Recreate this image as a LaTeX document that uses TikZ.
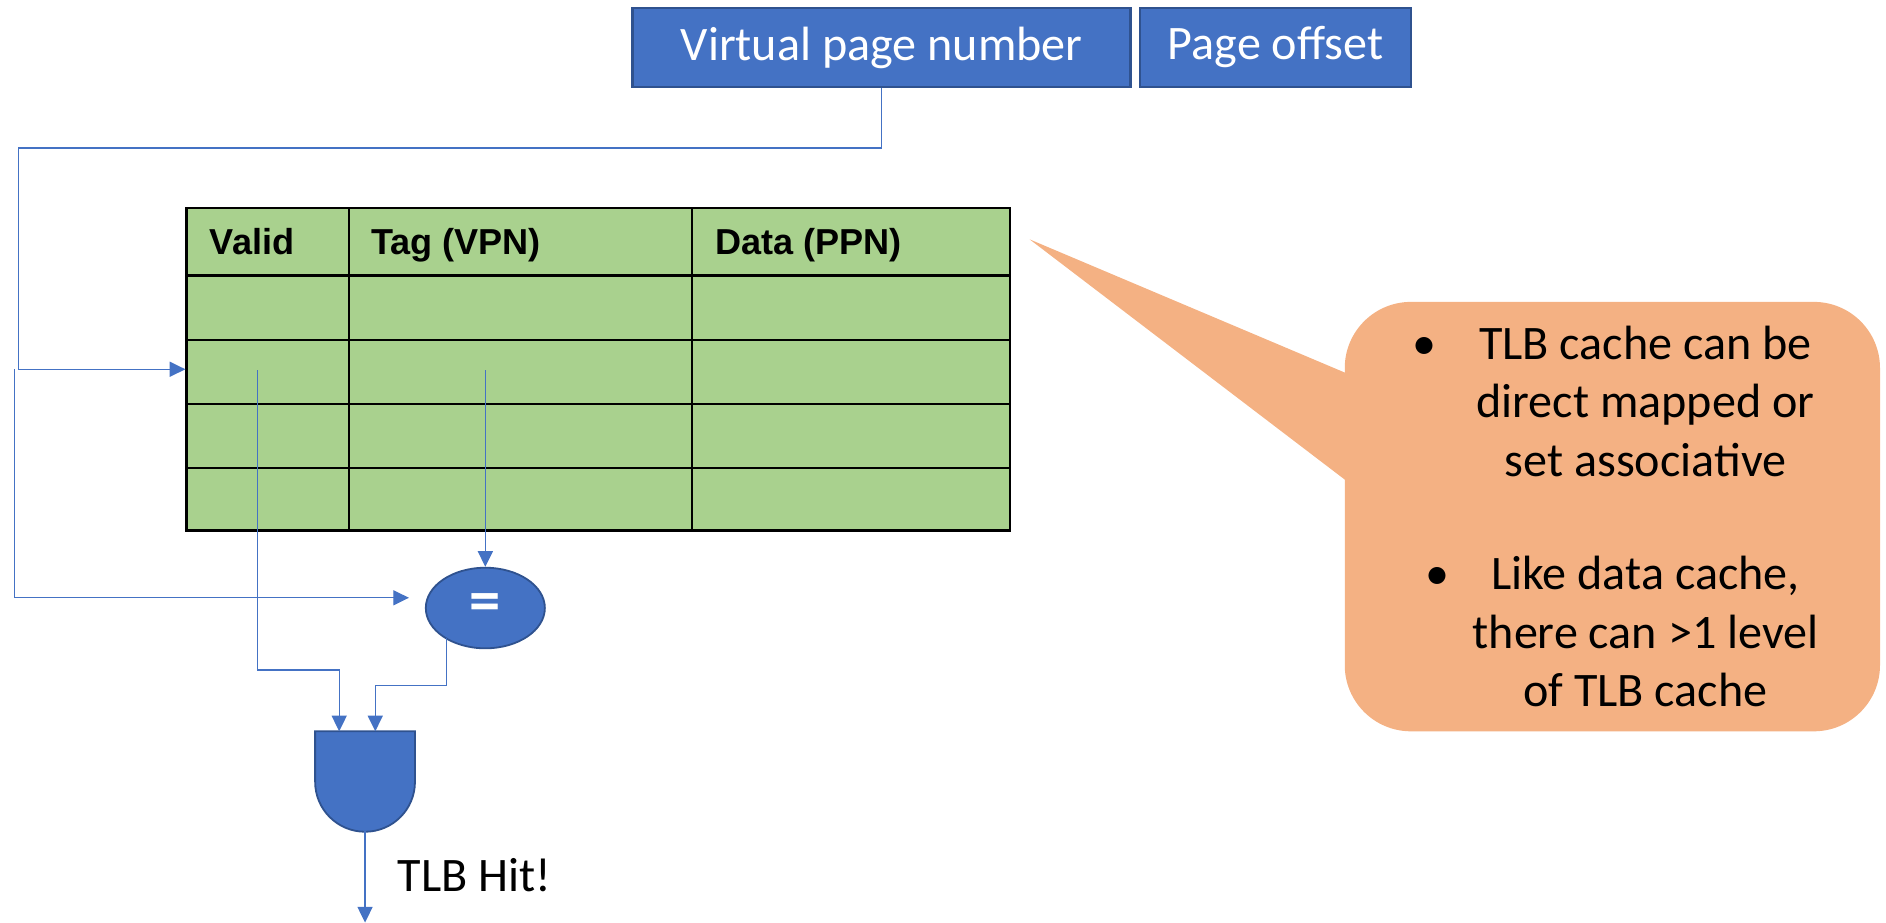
\documentclass[tikz,border=0pt]{standalone}
\usepackage{fontspec}
\setmainfont{Carlito}
\newfontfamily\hdrfont{Liberation Sans}
\usetikzlibrary{arrows.meta,calc,shapes.geometric}
\definecolor{accentblue}{HTML}{4472C4}
\definecolor{edgeblue}{HTML}{2F528F}
\definecolor{wireblue}{HTML}{4472C4}
\definecolor{cellgreen}{HTML}{A9D18E}
\definecolor{calloutorange}{HTML}{F4B183}
\tikzset{
  fieldbox/.style={draw=edgeblue, line width=2pt, fill=accentblue, text=white,
    font=\fontsize{40}{48}\selectfont, minimum height=66pt, inner sep=0pt},
  wire/.style={draw=wireblue, line width=1.1pt},
  tip/.style={-{Triangle[length=13pt,width=12.5pt]}},
  gridline/.style={draw=black, line width=1.8pt},
  hdr/.style={anchor=base west, font=\hdrfont\bfseries\fontsize{30}{36}\selectfont},
  note/.style={anchor=base, font=\fontsize{40}{48}\selectfont},
  logic/.style={draw=edgeblue, fill=accentblue, line width=1.5pt},
}
\begin{document}
\begin{tikzpicture}[x=1pt,y=-1pt]
\useasboundingbox (0,0) rectangle (1568,767);

% address fields
\node[fieldbox, minimum width=414pt] (vpn) at (733,39.5) {Virtual page number};
\node[fieldbox, minimum width=225pt] (off) at (1060.5,39.5) {Page offset};

% TLB table
\node[fill=cellgreen, draw=black, line width=1.8pt, minimum width=685pt,
      minimum height=268pt, inner sep=0pt] (tlb) at (497.5,307) {};
\foreach \y in {229,283,336,389}
  \draw[gridline] (155,\y) -- (840,\y);
\foreach \x in {290,575}
  \draw[gridline] (\x,173) -- (\x,441);
\node[hdr] (hvalid) at (171,212) {Valid};
\node[hdr] (htag) at (305,212) {Tag (VPN)};
\node[hdr] (hdata) at (591,212) {Data (PPN)};

% comparator and AND gate
\node[ellipse, logic, minimum width=99pt, minimum height=67pt, inner sep=0pt,
      text=white, font=\bfseries\fontsize{52}{56}\selectfont] (eq) at (403.5,505.5) {=};
\draw[logic] (262,608) -- (345,608) -- (345,650)
  arc[start angle=0, end angle=-180, radius=41.5pt] -- cycle;
\coordinate (andA) at (282,608);
\coordinate (andB) at (312,608);
\coordinate (andOut) at (303.5,691);

% wiring
\coordinate (busTop) at (15.5,123);
\coordinate (split) at (12,307);
\coordinate (eqIn) at (340,497);
\coordinate (validTap) at (214,308);
\coordinate (validBend) at (214,557);
\coordinate (tagTap) at (403.5,308);
\coordinate (eqOut) at ($(eq.center)+(-32.5,25.3)$);
\coordinate (eqBend) at (371,570);
\coordinate (hitEnd) at (303.5,767);

\draw[wire, tip] (vpn.south) |- (busTop) |- (tlb.west);
\draw[wire, tip] (split) |- (eqIn);
\draw[wire, tip] (tagTap) -- (eq.north);
\draw[wire, tip] (validTap) -- (validBend) -| (andA);
\draw[wire, tip] (eqOut) -- (eqBend) -| (andB);
\draw[wire, tip] (andOut) -- (hitEnd);
\node[note, anchor=base west] (hit) at (327,741) {TLB Hit!};

% callout
\node[fill=calloutorange, rounded corners=55pt, minimum width=445pt,
      minimum height=357pt, inner sep=0pt] (callout) at (1340.5,429.5) {};
\coordinate (pointerTip) at (856,199);
\fill[calloutorange] (pointerTip) -- (1121,311) -- (1121,401) -- cycle;
\node[note] (b1) at (1184,299) {•};
\node[note] (t1a) at (1368,299) {TLB cache can be};
\node[note] (t1b) at (1368,347) {direct mapped or};
\node[note] (t1c) at (1368,396) {set associative};
\node[note] (b2) at (1195,490) {•};
\node[note] (t2a) at (1368,490) {Like data cache,};
\node[note] (t2b) at (1368,539) {there can >1 level};
\node[note] (t2c) at (1368,587) {of TLB cache};
\end{tikzpicture}
\end{document}
